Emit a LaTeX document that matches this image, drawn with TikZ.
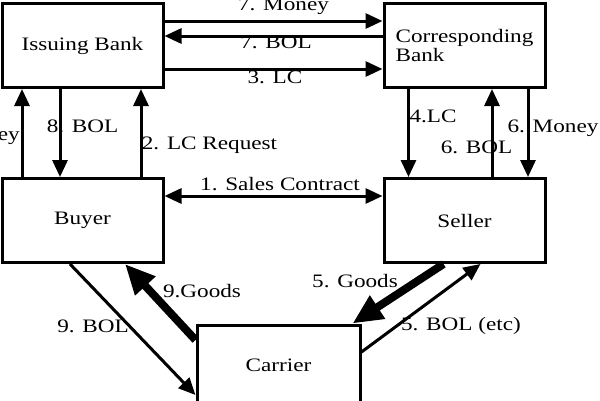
\documentclass[tikz,border=0pt]{standalone}
\usepackage{fontspec}
\setmainfont{Liberation Serif}[FakeStretch=1.22]
\usetikzlibrary{arrows.meta}

\begin{document}
\begin{tikzpicture}[x=1pt, y=-1pt,
    font=\fontsize{19}{17}\selectfont,
    >={Triangle[length=17pt,width=15pt]},
    box/.style={rectangle, draw, line width=3pt, minimum width=161pt, minimum height=84pt, inner sep=0pt},
    arr/.style={line width=3pt, ->},
    thickarr/.style={line width=8pt, -{Triangle[length=30pt,width=26pt]}},
    lbl/.style={anchor=base, inner sep=0pt}]
    \useasboundingbox (0,0) rectangle (600,400);

    % Draw nodes
    \node[box] (ib) at (82.5,45.5) {Issuing Bank};
    \node[box, align=left] (cb) at (464.5,45.5) {Corresponding\\Bank};
    \node[box] (bu) at (82.5,220.5) {Buyer};
    \node[box] (se) at (464.5,220.5) {Seller};
    \node[box, minimum width=163pt, minimum height=80pt] (ca) at (278.5,365) {Carrier};

    % Draw connections
    \draw[arr] ([yshift=24.5pt]ib.east) -- ([yshift=24.5pt]cb.west);
    \draw[arr] ([yshift=9.5pt]cb.west) -- ([yshift=9.5pt]ib.east);
    \draw[arr] ([yshift=-23.5pt]ib.east) -- ([yshift=-23.5pt]cb.west);
    \draw[arr, <->] ([yshift=24.5pt]bu.east) -- ([yshift=24.5pt]se.west);

    \draw[arr] ([xshift=-60.5pt]bu.north) -- ([xshift=-60.5pt]ib.south);
    \draw[arr] ([xshift=-22.5pt]ib.south) -- ([xshift=-22.5pt]bu.north);
    \draw[arr] ([xshift=58.5pt]bu.north) -- ([xshift=58.5pt]ib.south);
    \draw[arr] ([xshift=-56pt]cb.south) -- ([xshift=-56pt]se.north);
    \draw[arr] ([xshift=27.5pt]se.north) -- ([xshift=27.5pt]cb.south);
    \draw[arr] ([xshift=63.5pt]cb.south) -- ([xshift=63.5pt]se.north);

    \draw[thickarr] ([xshift=-21pt]se.south) -- ([xshift=-9pt]ca.north east);
    \draw[arr] ([yshift=13pt]ca.east) -- ([xshift=16pt]se.south);
    \draw[thickarr] ([yshift=25pt]ca.west) -- ([xshift=42.5pt]bu.south);
    \draw[arr] ([xshift=-12.5pt]bu.south) -- ([yshift=-30pt]ca.west);

    % Labels
    \node[lbl] (l7m) at (283.5,10) {7. Money};
    \node[lbl] (l7b) at (276,48) {7. BOL};
    \node[lbl] (l3) at (275,83) {3. LC};
    \node[lbl] (l1) at (280,190) {1. Sales Contract};
    \node[lbl, anchor=base east] (l8m) at (20,140) {8. Money};
    \node[lbl] (l8b) at (82.5,132) {8. BOL};
    \node[lbl] (l2) at (209.5,149) {2. LC Request};
    \node[lbl] (l4) at (433,122) {4.LC};
    \node[lbl] (l6b) at (476.5,153) {6. BOL};
    \node[lbl] (l6m) at (553,132) {6. Money};
    \node[lbl] (l5g) at (355,287) {5. Goods};
    \node[lbl] (l5b) at (461,330) {5. BOL (etc)};
    \node[lbl] (l9g) at (202,297) {9.Goods};
    \node[lbl] (l9b) at (93,332) {9. BOL};
\end{tikzpicture}
\end{document}
